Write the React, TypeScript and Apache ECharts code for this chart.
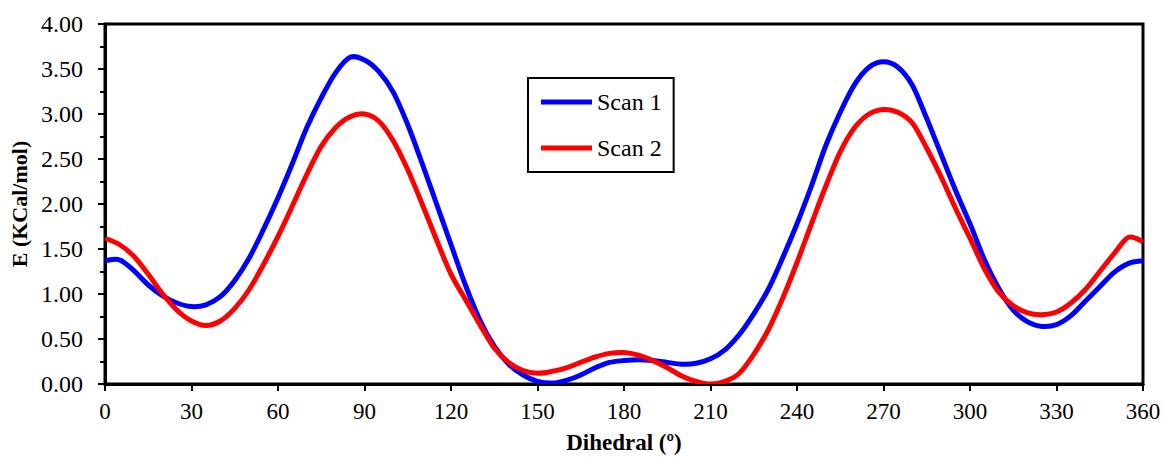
import React, { useEffect, useRef } from "react";
import * as echarts from "echarts";

const angles = [
  0, 5, 10, 15, 20, 25, 30, 35, 40, 45, 50, 55, 60, 65, 70, 75, 80, 85, 90, 95,
  100, 105, 110, 115, 120, 125, 130, 135, 140, 145, 150, 155, 160, 165, 170, 175,
  180, 185, 190, 195, 200, 205, 210, 215, 220, 225, 230, 235, 240, 245, 250, 255,
  260, 265, 270, 275, 280, 285, 290, 295, 300, 305, 310, 315, 320, 325, 330, 335,
  340, 345, 350, 355, 360,
];

const scan1 = [
  1.37, 1.38, 1.26, 1.1, 0.98, 0.9, 0.86, 0.88, 0.97, 1.15, 1.4, 1.72, 2.07, 2.45,
  2.85, 3.18, 3.46, 3.63, 3.6, 3.47, 3.24, 2.88, 2.45, 2.0, 1.55, 1.1, 0.71, 0.42,
  0.22, 0.1, 0.03, 0.01, 0.04, 0.1, 0.18, 0.24, 0.26, 0.27, 0.26, 0.24, 0.22, 0.23,
  0.28, 0.38, 0.55, 0.78, 1.05, 1.4, 1.78, 2.2, 2.65, 3.02, 3.33, 3.52, 3.58, 3.52,
  3.32, 2.95, 2.55, 2.15, 1.78, 1.38, 1.06, 0.82, 0.69, 0.64, 0.66, 0.76, 0.92,
  1.08, 1.24, 1.34, 1.37,
];

const scan2 = [
  1.62, 1.55, 1.42, 1.22, 1.0, 0.82, 0.7, 0.65, 0.7, 0.84, 1.05, 1.33, 1.64,
  1.98, 2.33, 2.64, 2.85, 2.97, 3.0, 2.92, 2.7, 2.38, 2.0, 1.6, 1.22, 0.94, 0.66,
  0.4, 0.24, 0.15, 0.12, 0.14, 0.18, 0.24, 0.3, 0.34, 0.35, 0.32, 0.26, 0.18, 0.09,
  0.03, 0.0, 0.03, 0.12, 0.33, 0.6, 0.95, 1.35, 1.78, 2.2, 2.58, 2.85, 3.0, 3.05,
  3.02, 2.9, 2.62, 2.3, 1.95, 1.62, 1.28, 1.02, 0.87, 0.79, 0.77, 0.8, 0.9, 1.05,
  1.25, 1.45, 1.63, 1.58,
];

const seriesNames = ["Scan 1", "Scan 2"];
const seriesColors = ["#0000FF", "#FF0000"];
const FONT = "'Liberation Serif', 'Times New Roman', serif";

function catmullPath(pts: number[][]): string {
  let d = `M${pts[0][0]},${pts[0][1]}`;
  for (let i = 0; i < pts.length - 1; i++) {
    const p0 = pts[i - 1] || pts[i];
    const p1 = pts[i];
    const p2 = pts[i + 1];
    const p3 = pts[i + 2] || p2;
    const t = 1 / 6;
    const c1x = p1[0] + (p2[0] - p0[0]) * t;
    const c1y = p1[1] + (p2[1] - p0[1]) * t;
    const c2x = p2[0] - (p3[0] - p1[0]) * t;
    const c2y = p2[1] - (p3[1] - p1[1]) * t;
    d += ` C${c1x},${c1y} ${c2x},${c2y} ${p2[0]},${p2[1]}`;
  }
  return d;
}

function makeSeries(idx: number, values: number[]) {
  return {
    name: seriesNames[idx],
    type: "custom",
    clip: true,
    itemStyle: { color: seriesColors[idx] },
    data: angles.map((a, i) => [a, values[i]]),
    encode: { x: 0, y: 1 },
    renderItem: (params: any, api: any) => {
      if (params.dataIndex !== 0) return null;
      const pts = angles.map((a, i) => api.coord([a, values[i]]));
      return {
        type: "path",
        shape: { pathData: catmullPath(pts) },
        style: { stroke: seriesColors[idx], lineWidth: 5, fill: "none" },
      };
    },
  };
}

export default function App() {
  const ref = useRef<HTMLDivElement>(null);
  useEffect(() => {
    if (!ref.current) return;
    const chart = echarts.init(ref.current, undefined, { renderer: "svg" });
    chart.setOption({
      animation: false,
      backgroundColor: "#fff",
      textStyle: { fontFamily: FONT },
      grid: {
        left: 105,
        right: 21,
        top: 24,
        bottom: 77,
        show: true,
        borderColor: "#000",
        borderWidth: 3,
      },
      legend: {
        orient: "vertical",
        left: 528,
        top: 78,
        data: seriesNames.map((n, i) => ({ name: n, icon: "rect", itemStyle: { color: seriesColors[i] } })),
        itemWidth: 51,
        itemHeight: 5,
        itemGap: 22,
        padding: [12, 12, 12, 13],
        borderColor: "#000",
        borderWidth: 2,
        textStyle: { fontFamily: FONT, fontSize: 24, color: "#000" },
      },
      xAxis: {
        type: "value",
        min: 0,
        max: 360,
        interval: 30,
        name: "Dihedral (º)",
        nameLocation: "middle",
        nameGap: 47,
        nameTextStyle: { fontFamily: FONT, fontSize: 23, fontWeight: "bold", color: "#000" },
        axisLine: { show: true, lineStyle: { color: "#000", width: 3 } },
        axisTick: { show: true, length: 7, lineStyle: { color: "#000", width: 2 } },
        axisLabel: { fontFamily: FONT, fontSize: 23, color: "#000", margin: 16 },
        splitLine: { show: false },
      },
      yAxis: {
        type: "value",
        min: 0,
        max: 4,
        interval: 0.5,
        name: "E (KCal/mol)",
        nameLocation: "middle",
        nameGap: 73,
        nameTextStyle: { fontFamily: FONT, fontSize: 22, fontWeight: "bold", color: "#000" },
        axisLine: { show: true, lineStyle: { color: "#000", width: 3 } },
        axisTick: { show: true, length: 7, lineStyle: { color: "#000", width: 2 } },
        minorTick: { show: true, splitNumber: 2, length: 5, lineStyle: { color: "#000", width: 2 } },
        axisLabel: {
          fontFamily: FONT,
          fontSize: 24,
          color: "#000",
          margin: 22,
          formatter: (v: number) => v.toFixed(2),
        },
        splitLine: { show: false },
      },
      series: [makeSeries(0, scan1), makeSeries(1, scan2)],
    });
    return () => chart.dispose();
  }, []);
  return (
    <div
      ref={ref}
      style={{ position: "fixed", left: 0, top: 0, width: 1164, height: 461 }}
    />
  );
}
